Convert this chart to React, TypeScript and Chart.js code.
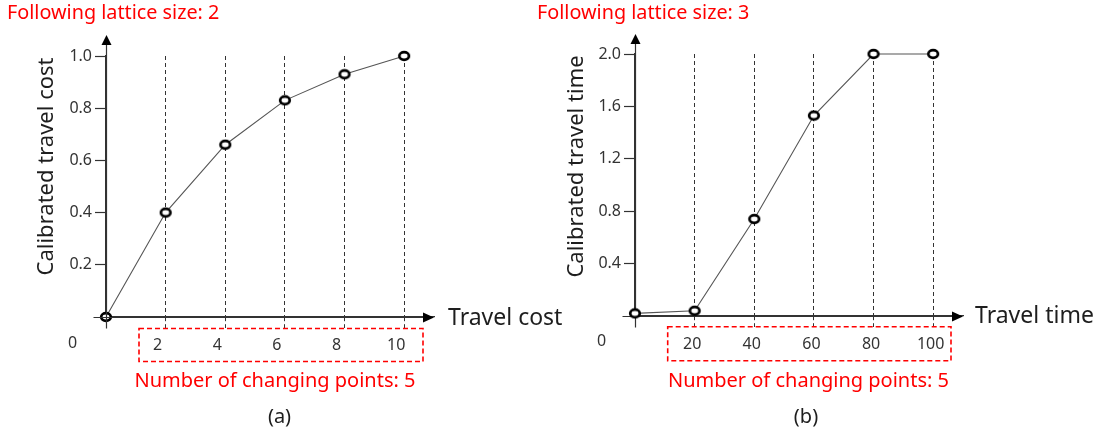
import React, { useEffect, useRef } from 'react';
import { Chart, registerables } from 'chart.js';

Chart.register(...registerables);

// ---- data ----
const costX = [0, 2, 4, 6, 8, 10];
const costY = [0, 0.4, 0.66, 0.83, 0.93, 1.0];
const costTicksX = [2, 4, 6, 8, 10];
const costTicksY = [0.2, 0.4, 0.6, 0.8, 1.0];

const timeX = [0, 20, 40, 60, 80, 100];
const timeY = [0.02, 0.04, 0.74, 1.53, 2.0, 2.0];
const timeTicksX = [20, 40, 60, 80, 100];
const timeTicksY = [0.4, 0.8, 1.2, 1.6, 2.0];

const FONT = '"Noto Sans", "Open Sans", sans-serif';
const AXIS = '#333';
const TEXT = '#1e1e1e';
const RED = '#ff0000';

function makeMarker(): HTMLCanvasElement {
  const c = document.createElement('canvas');
  c.width = 14;
  c.height = 12;
  const g = c.getContext('2d')!;
  g.beginPath();
  g.ellipse(7, 6, 4.8, 3.8, 0, 0, Math.PI * 2);
  g.fillStyle = '#fff';
  g.fill();
  g.lineWidth = 2.7;
  g.strokeStyle = '#000';
  g.stroke();
  return c;
}

type Panel = {
  key: string;
  width: number;
  left: number;
  xs: number[];
  ys: number[];
  ticksX: number[];
  ticksY: number[];
  xMax: number;
  yMax: number;
  yWidth: number;
  xHeight: number;
  padTop: number;
  padRight: number;
  labelOffset: number;
  header: string;
  yTitle: string;
  yTitleBaseX: number;
  xTitle: string;
  xTitleX: number;
  xTitleY: number;
  zeroX: number;
  zeroY: number;
  box: [number, number, number, number];
  note: string;
  noteX: number;
  noteY: number;
  sub: string;
  subX: number;
  subY: number;
  arrowTop: number;
  axisOnTop: boolean;
};

const panels: Panel[] = [
  {
    key: 'a', width: 570, left: 0,
    xs: costX, ys: costY, ticksX: costTicksX, ticksY: costTicksY,
    xMax: 11, yMax: 1.0, yWidth: 106, xHeight: 120, padTop: 56, padRight: 136,
    labelOffset: -8,
    header: 'Following lattice size: 2',
    yTitle: 'Calibrated travel cost', yTitleBaseX: 53,
    xTitle: 'Travel cost', xTitleX: 448, xTitleY: 325,
    zeroX: 72.5, zeroY: 343,
    box: [139, 328.5, 423, 361.5],
    note: 'Number of changing points: 5', noteX: 275, noteY: 386.5,
    sub: '(a)', subX: 279.5, subY: 423,
    arrowTop: 35, axisOnTop: true,
  },
  {
    key: 'b', width: 572, left: 530,
    xs: timeX, ys: timeY, ticksX: timeTicksX, ticksY: timeTicksY,
    xMax: 110, yMax: 2.0, yWidth: 105, xHeight: 121, padTop: 54, padRight: 139,
    labelOffset: -2.5,
    header: 'Following lattice size: 3',
    yTitle: 'Calibrated travel time', yTitleBaseX: 53,
    xTitle: 'Travel time', xTitleX: 445, xTitleY: 323,
    zeroX: 71.7, zeroY: 341,
    box: [137.7, 326.7, 421, 360.7],
    note: 'Number of changing points: 5', noteX: 278.5, noteY: 386.5,
    sub: '(b)', subX: 276, subY: 423,
    arrowTop: 34, axisOnTop: false,
  },
];

function drawAxes(chart: any, p: Panel) {
  const { ctx, chartArea: a } = chart;
  const x0 = Math.round(a.left) + 0.5;
  const y0 = Math.round(a.bottom) + 0.5;
  ctx.save();
  ctx.strokeStyle = AXIS;
  ctx.lineWidth = 1.2;
  ctx.setLineDash([]);
  ctx.beginPath();
  ctx.moveTo(x0, y0 + 11);
  ctx.lineTo(x0, p.arrowTop + 8);
  ctx.stroke();
  ctx.beginPath();
  ctx.moveTo(x0 - 13, y0);
  ctx.lineTo(a.right - 8, y0);
  ctx.stroke();
  ctx.fillStyle = '#000';
  ctx.beginPath();
  ctx.moveTo(x0, p.arrowTop);
  ctx.lineTo(x0 - 5, p.arrowTop + 10);
  ctx.lineTo(x0 + 5, p.arrowTop + 10);
  ctx.closePath();
  ctx.fill();
  ctx.beginPath();
  ctx.moveTo(a.right, y0);
  ctx.lineTo(a.right - 11, y0 - 5);
  ctx.lineTo(a.right - 11, y0 + 5);
  ctx.closePath();
  ctx.fill();
  ctx.restore();
}

function drawTexts(chart: any, p: Panel) {
  const { ctx } = chart;
  ctx.save();
  // header
  ctx.fillStyle = RED;
  ctx.font = `19.8px ${FONT}`;
  ctx.textAlign = 'left';
  ctx.textBaseline = 'alphabetic';
  ctx.fillText(p.header, 7, 19);
  // y title
  ctx.save();
  ctx.translate(p.yTitleBaseX, 166.5);
  ctx.rotate(-Math.PI / 2);
  ctx.fillStyle = TEXT;
  ctx.font = `22px ${FONT}`;
  ctx.textAlign = 'center';
  ctx.textBaseline = 'alphabetic';
  ctx.fillText(p.yTitle, 0, 0);
  ctx.restore();
  // x title
  ctx.fillStyle = TEXT;
  ctx.font = `23px ${FONT}`;
  ctx.textAlign = 'left';
  ctx.fillText(p.xTitle, p.xTitleX, p.xTitleY);
  // zero
  ctx.fillStyle = '#333';
  ctx.font = `16px ${FONT}`;
  ctx.textAlign = 'center';
  ctx.textBaseline = 'middle';
  ctx.fillText('0', p.zeroX, p.zeroY);
  // red dashed box
  const [l, t, r, b] = p.box;
  ctx.strokeStyle = RED;
  ctx.lineWidth = 1.6;
  ctx.setLineDash([5, 3]);
  ctx.strokeRect(l, t, r - l, b - t);
  ctx.setLineDash([]);
  // note
  ctx.fillStyle = RED;
  ctx.font = `20px ${FONT}`;
  ctx.textAlign = 'center';
  ctx.textBaseline = 'alphabetic';
  ctx.fillText(p.note, p.noteX, p.noteY);
  // sub caption
  ctx.fillStyle = TEXT;
  ctx.font = `20px ${FONT}`;
  ctx.fillText(p.sub, p.subX, p.subY);
  ctx.restore();
}

function PanelChart({ p }: { p: Panel }) {
  const ref = useRef<HTMLCanvasElement>(null);
  useEffect(() => {
    if (!ref.current) return;
    const marker = makeMarker();
    const plugin = {
      id: 'decor_' + p.key,
      beforeDatasetsDraw(chart: any) {
        if (!p.axisOnTop) drawAxes(chart, p);
      },
      afterDatasetsDraw(chart: any) {
        if (p.axisOnTop) drawAxes(chart, p);
      },
      afterDraw(chart: any) {
        drawTexts(chart, p);
      },
    };
    const chart = new Chart(ref.current, {
      type: 'line',
      data: {
        datasets: [
          {
            data: p.xs.map((x, i) => ({ x, y: p.ys[i] })),
            borderColor: '#555',
            borderWidth: 1.1,
            pointStyle: marker as any,
            pointRadius: 5,
            tension: 0,
            clip: false as any,
          },
        ],
      },
      options: {
        animation: false,
        responsive: false,
        devicePixelRatio: 1,
        events: [],
        layout: { padding: { top: p.padTop, right: p.padRight, left: 0, bottom: 0 } },
        plugins: { legend: { display: false }, tooltip: { enabled: false }, title: { display: false } },
        scales: {
          x: {
            type: 'linear',
            min: 0,
            max: p.xMax,
            afterBuildTicks: (s: any) => {
              s.ticks = p.ticksX.map((v) => ({ value: v }));
            },
            afterFit: (s: any) => {
              s.height = p.xHeight;
            },
            grid: {
              display: true,
              drawOnChartArea: true,
              drawTicks: true,
              color: '#333',
              lineWidth: 1,
              tickLength: 11,
              tickColor: '#333',
              tickWidth: 1,
              tickBorderDash: [4, 3],
            },
            border: { display: true, color: AXIS, width: 1.2, dash: [4, 3] },
            ticks: {
              autoSkip: false,
              maxRotation: 0,
              padding: 8,
              labelOffset: p.labelOffset,
              color: '#333',
              font: { size: 16, family: FONT },
              callback: (v: any) => String(v),
            },
          },
          y: {
            type: 'linear',
            min: 0,
            max: p.yMax,
            afterBuildTicks: (s: any) => {
              s.ticks = p.ticksY.map((v) => ({ value: v }));
            },
            afterFit: (s: any) => {
              s.width = p.yWidth;
            },
            grid: {
              display: true,
              drawOnChartArea: false,
              drawTicks: true,
              tickLength: 11,
              tickColor: '#333',
              tickWidth: 1.2,
            },
            border: { display: true, color: AXIS, width: 1.2 },
            ticks: {
              padding: 3,
              color: '#333',
              font: { size: 16, family: FONT },
              callback: (v: any) => Number(v).toFixed(1),
            },
          },
        },
      },
      plugins: [plugin],
    } as any);
    return () => chart.destroy();
  }, [p]);
  return (
    <canvas
      ref={ref}
      width={p.width}
      height={437}
      style={{ position: 'absolute', left: p.left, top: 0, width: p.width, height: 437 }}
    />
  );
}

export default function App() {
  return (
    <div style={{ position: 'absolute', left: 0, top: 0, width: 1102, height: 437, background: '#fff', overflow: 'hidden' }}>
      {panels.map((p) => (
        <PanelChart key={p.key} p={p} />
      ))}
    </div>
  );
}
